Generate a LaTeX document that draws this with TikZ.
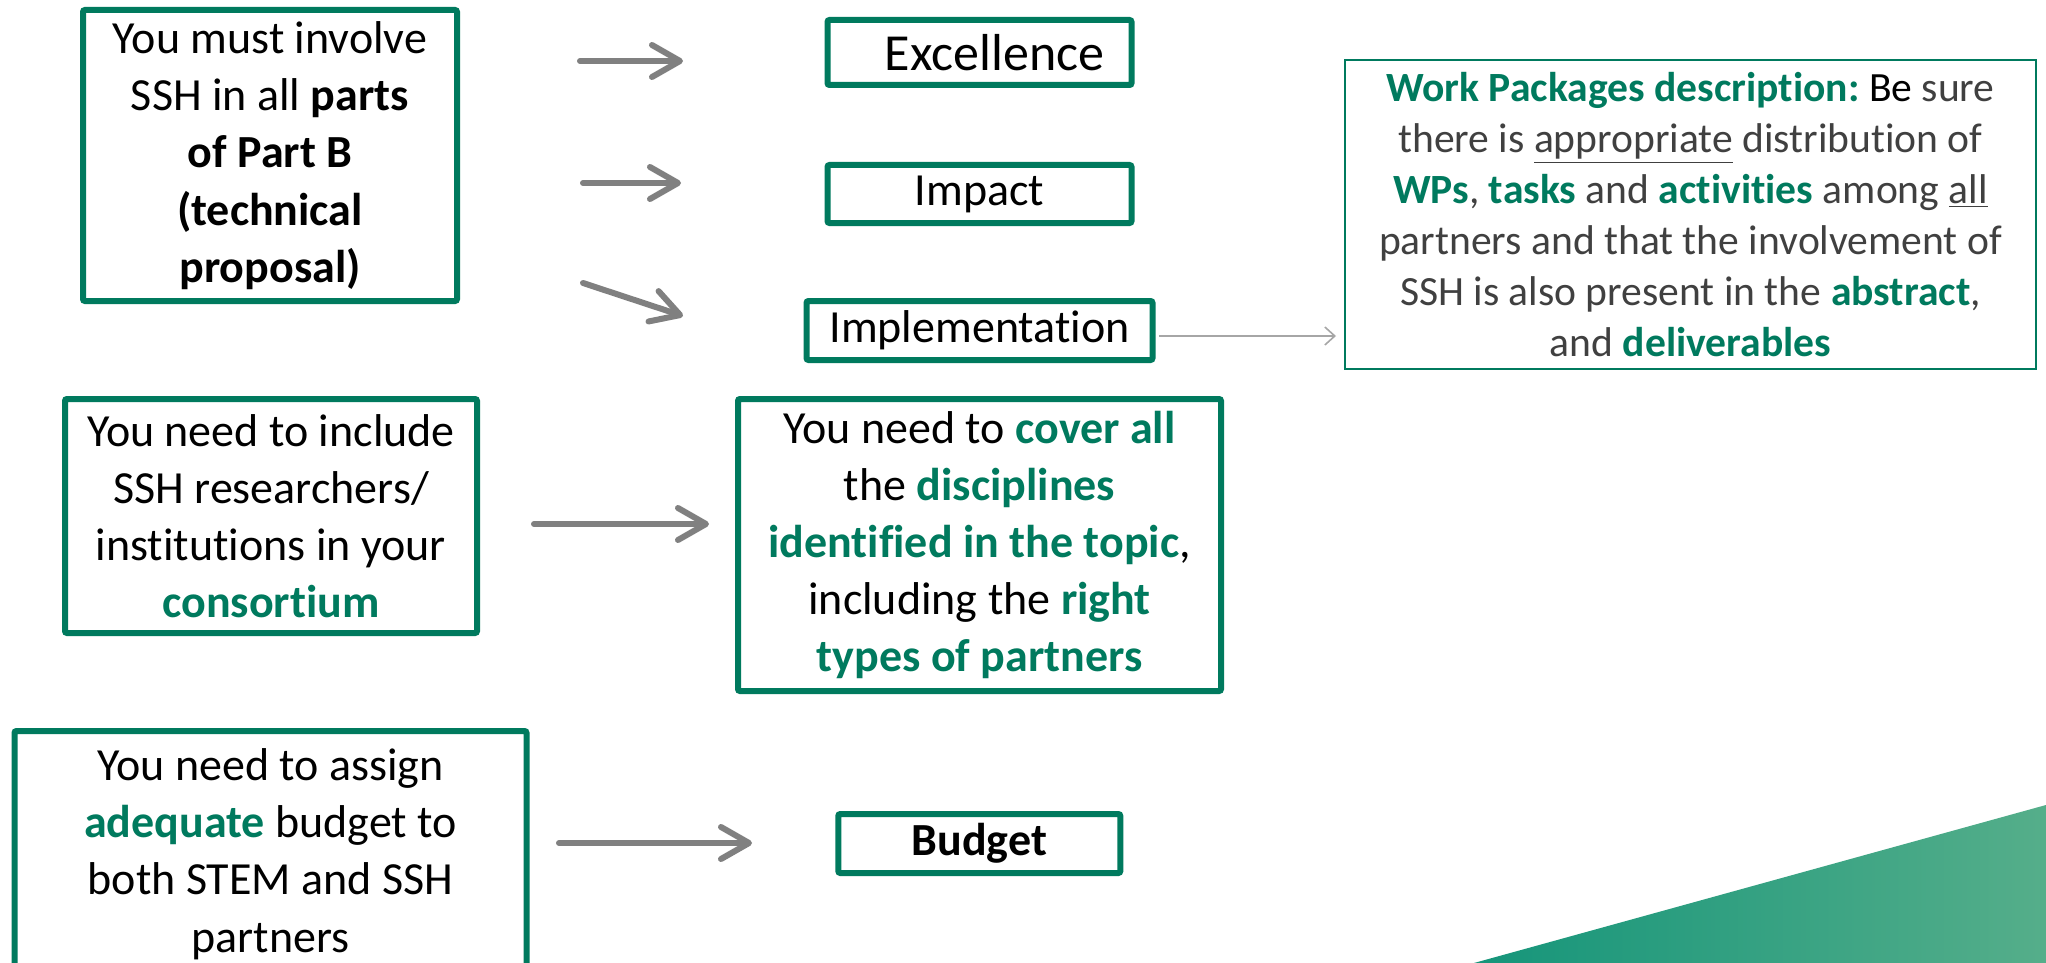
\documentclass[tikz,border=0pt]{standalone}
\usepackage{fontspec}
\setmainfont{Carlito}[Ligatures=NoCommon]
\usetikzlibrary{arrows.meta}
\definecolor{eugreen}{HTML}{007A5E}
\definecolor{arrgray}{HTML}{808080}
\definecolor{thingray}{HTML}{A6A6A6}
\definecolor{txtgray}{HTML}{404040}
\definecolor{triL}{HTML}{15957A}
\definecolor{triR}{HTML}{55AE8A}
\newcommand{\gr}[1]{\textcolor{eugreen}{\textbf{#1}}}
\frenchspacing
\begin{document}
\begin{tikzpicture}[x=0.5pt,y=-0.5pt,
  box/.style={draw=eugreen, line width=3pt, rounded corners=1pt, inner sep=0pt, align=center,
    font=\fontsize{23}{28.6}\selectfont},
  thinbox/.style={draw=eugreen, line width=1pt, inner sep=0pt, align=center, text=txtgray,
    font=\fontsize{20.8}{25.5}\selectfont},
  bigarrow/.style={draw=arrgray, line width=3pt, line cap=round,
    -{Straight Barb[length=14pt,width=16pt,line cap=round,line join=round]}},
  thinarrow/.style={draw=thingray, line width=0.8pt,
    -{Straight Barb[length=5pt,width=9pt]}}]
\clip (0,0) rectangle (2046,963);
\fill[white] (0,0) rectangle (2046,963);
% decorative triangle
\shade[left color=triL, right color=triR] (1474,963) -- (2046,805) -- (2046,963) -- cycle;
% left column
\node[box, minimum width=187pt, minimum height=145.5pt] (b1) at (270,155.5)
  {You must involve\\SSH in all \textbf{parts}\\\textbf{of Part B}\\\textbf{(technical}\\\textbf{proposal)}};
\node[box, minimum width=206pt, minimum height=117pt] (b2) at (271,516)
  {You need to include\\SSH researchers/\\institutions in your\\\gr{consortium}};
\node[box, minimum width=256pt, minimum height=123pt] (b4) at (270.5,854)
  {You need to assign\\\gr{adequate} budget to\\both STEM and SSH\\partners};
% middle column
\node[box, minimum width=152pt, minimum height=32.5pt, font=\fontsize{26}{30}\selectfont] (exc) at (979.5,52.5)
  {\hspace*{15pt}Excellence};
\node[box, minimum width=152pt, minimum height=29pt] (imp) at (979.5,194) {Impact};
\node[box, minimum width=173pt, minimum height=29.5pt] (impl) at (979.5,330.5) {Implementation};
\node[box, minimum width=241.5pt, minimum height=146pt] (b3) at (979.5,545)
  {You need to \gr{cover all}\\the \gr{disciplines}\\\gr{identified in the topic},\\including the \gr{right}\\\gr{types of partners}};
\node[box, minimum width=141pt, minimum height=29.5pt] (bud) at (979.3,843.5) {\textbf{Budget}};
% right box
\node[thinbox, minimum width=345.5pt, minimum height=154.5pt] (wp) at (1690.5,214.5)
  {\gr{Work Packages description:} \textcolor{black}{Be} sure\\
   there is \underline{appropriate} distribution of\\
   \gr{WPs}, \gr{tasks} and \gr{activities} among \underline{all}\\
   partners and that the involvement of\\
   SSH is also present in the \gr{abstract},\\
   and \gr{deliverables}};
% arrow end points
\coordinate (a1s) at (580,61);   \coordinate (a1e) at (683,61);
\coordinate (a2s) at (583,183);  \coordinate (a2e) at (681,183);
\coordinate (a3s) at (583,283);  \coordinate (a3e) at (683,316);
\coordinate (a4s) at (534,524);  \coordinate (a4e) at (709,524);
\coordinate (a5s) at (559,843);  \coordinate (a5e) at (752,843);
\coordinate (t0) at (1159,336);  \coordinate (t1) at (1336,336);
\draw[bigarrow] (a1s) -- (a1e);
\draw[bigarrow] (a2s) -- (a2e);
\draw[bigarrow] (a3s) -- (a3e);
\draw[bigarrow] (a4s) -- (a4e);
\draw[bigarrow] (a5s) -- (a5e);
\draw[thinarrow] (t0) -- (t1);
\end{tikzpicture}
\end{document}
